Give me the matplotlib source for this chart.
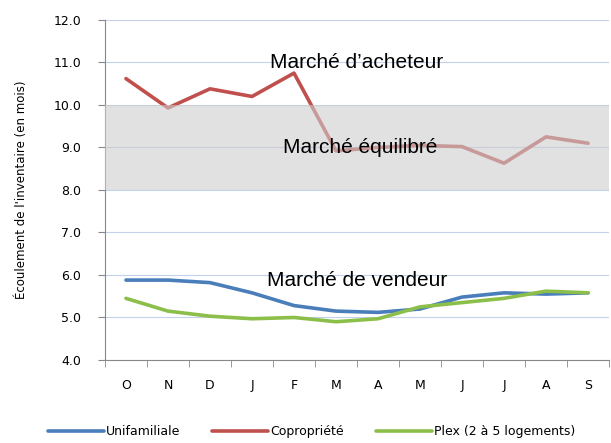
import matplotlib
matplotlib.use("Agg")
import matplotlib.pyplot as plt
from matplotlib.patches import Rectangle

months = ["O", "N", "D", "J", "F", "M", "A", "M", "J", "J", "A", "S"]
unifamiliale = [5.88, 5.88, 5.82, 5.58, 5.28, 5.15, 5.12, 5.20, 5.48, 5.58, 5.55, 5.58]
copropriete = [10.62, 9.93, 10.38, 10.20, 10.75, 8.92, 9.00, 9.05, 9.02, 8.63, 9.25, 9.10]
plex = [5.45, 5.15, 5.03, 4.97, 5.00, 4.90, 4.97, 5.25, 5.35, 5.45, 5.62, 5.58]
yticks = [4.0, 5.0, 6.0, 7.0, 8.0, 9.0, 10.0, 11.0, 12.0]

fig = plt.figure(figsize=(6.11, 4.43), dpi=100)
ax = fig.add_axes([0.1718, 0.1874, 0.825, 0.7675])

x = list(range(len(months)))
ax.plot(x, unifamiliale, color="#4a7ebb", lw=2.6, label="Unifamiliale", solid_capstyle="round", zorder=3)
ax.plot(x, copropriete, color="#c0504d", lw=2.6, label="Copropriété", solid_capstyle="round", zorder=3)
ax.plot(x, plex, color="#8cbf4a", lw=2.6, label="Plex (2 à 5 logements)", solid_capstyle="round", zorder=3)

ax.add_patch(Rectangle((-0.5, 8.0), 12, 2.0, facecolor="#cdcdcd", alpha=0.6,
                       edgecolor="none", zorder=4))

ax.text(5.5, 11.0, "Marché d\u2019acheteur", ha="center", va="center", fontsize=15,
        family="Liberation Sans", zorder=5)
ax.text(5.57, 9.0, "Marché équilibré", ha="center", va="center", fontsize=15,
        family="Liberation Sans", zorder=5)
ax.text(5.5, 5.88, "Marché de vendeur", ha="center", va="center", fontsize=15,
        family="Liberation Sans", zorder=5)

ax.set_xlim(-0.5, 11.5)
ax.set_ylim(4.0, 12.0)
ax.set_yticks(yticks)
ax.set_yticklabels([f"{v:.1f}" for v in yticks], fontsize=9)
ax.set_xticks(x)
ax.set_xticklabels(months, fontsize=9)
ax.set_xticks([i - 0.5 for i in range(13)], minor=True)
ax.tick_params(axis="x", which="major", length=0, pad=14)
ax.tick_params(axis="x", which="minor", length=5, color="#888888")
ax.tick_params(axis="y", length=5, color="#888888", pad=12)

ax.grid(axis="y", color="#c3d1ee", lw=0.8, zorder=0)
ax.set_axisbelow(True)
for s in ["top", "right"]:
    ax.spines[s].set_visible(False)
for s in ["left", "bottom"]:
    ax.spines[s].set_color("#888888")

ax.set_ylabel("Écoulement de l'inventaire (en mois)", fontsize=8.5, labelpad=18)

leg = fig.legend(loc="lower center", bbox_to_anchor=(0.51, -0.015), ncol=3, frameon=False,
                 fontsize=9, handlelength=4.5, handletextpad=0.2, columnspacing=2.5)

fig.savefig("out.png", dpi=100)
